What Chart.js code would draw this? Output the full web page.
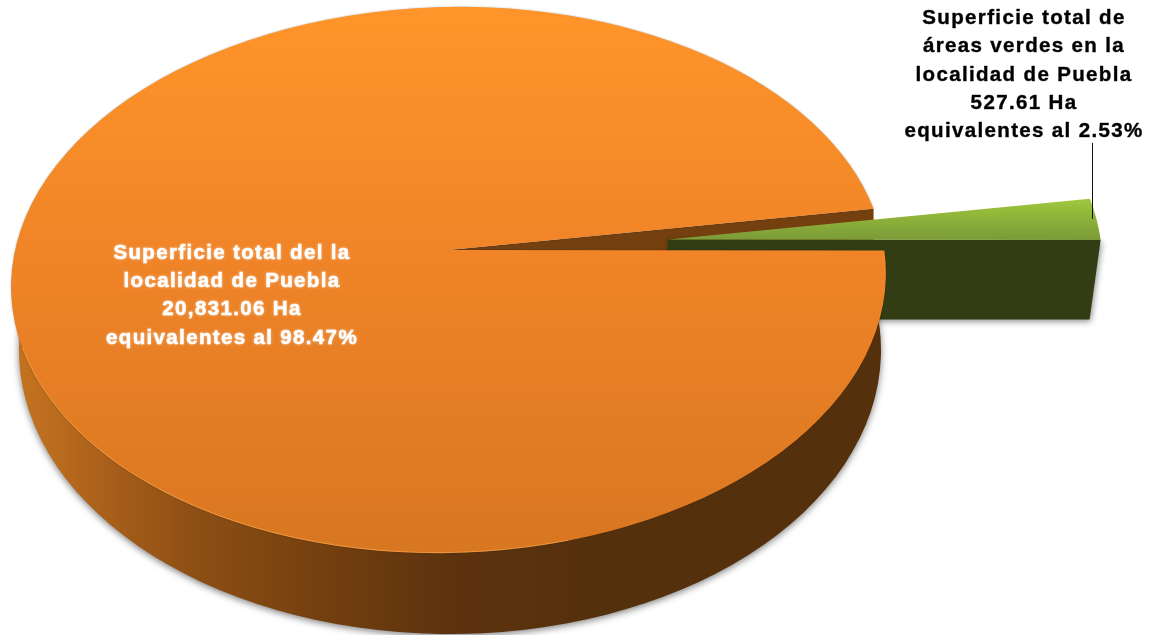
<!DOCTYPE html>
<html>
<head>
<meta charset="utf-8">
<style>
  html, body { margin: 0; padding: 0; background: #fff; }
  canvas { display: block; }
</style>
<script src="https://cdn.jsdelivr.net/npm/chart.js@4/dist/chart.umd.js"></script>
</head>
<body>
<canvas id="pie" width="1157" height="635"></canvas>
<script>
// Land area of Puebla: total surface versus green areas, in hectares.
const categories = ['Superficie total', 'Áreas verdes'];
const hectares = [20831.06, 527.61];
const sliceOffsets = [0, 219.5];
const orangeLabelLines = ['Superficie total del la', 'localidad de Puebla', '20,831.06 Ha', 'equivalentes al 98.47%'];
const greenLabelLines = ['Superficie total de', 'áreas verdes en la', 'localidad de Puebla', '527.61 Ha', 'equivalentes al 2.53%'];

// Tilted-disc projection: the top face is a slightly rotated ellipse, its apex
// sits above the ellipse centre and the base is another ellipse further down.
const view = {
  squash: 0.624,
  tilt: -1.5 * Math.PI / 180,
  apexDx: 0, apexDy: -30,
  baseDx: 1.5, baseDy: 70, baseRx: 431, baseRy: 284,
  wallDrop: 80, wallInset: 11,
  greenScale: 0.993
};

const rimPoint = (c, rx, ry, t) => {
  const px = rx * Math.cos(t), py = ry * Math.sin(t);
  const cs = Math.cos(view.tilt), sn = Math.sin(view.tilt);
  return { x: c.x + px * cs - py * sn, y: c.y + px * sn + py * cs };
};

const disc3d = {
  id: 'disc3d',
  beforeDatasetDraw(chart, args) {
    const { ctx } = chart;
    const [orange, green] = args.meta.data;
    const c = { x: orange.x, y: orange.y };
    const rx = orange.outerRadius;
    const ry = rx * view.squash;
    const apex = { x: c.x + view.apexDx, y: c.y + view.apexDy };

    const endRim = rimPoint(c, rx, ry, orange.endAngle);

    // Inner cut wall of the big slice, seen through the gap.
    ctx.save();
    ctx.fillStyle = '#74400f';
    ctx.beginPath();
    ctx.moveTo(apex.x, apex.y);
    ctx.lineTo(endRim.x, endRim.y);
    ctx.lineTo(endRim.x, endRim.y + view.wallDrop);
    ctx.lineTo(apex.x, apex.y + view.wallDrop);
    ctx.closePath();
    ctx.fill();
    ctx.restore();

    // The small slice is pushed out along the line through its middle.
    const midRim = rimPoint(c, rx, ry, (green.startAngle + green.endAngle) / 2);
    const len = Math.hypot(midRim.x - apex.x, midRim.y - apex.y);
    const off = green.options.offset;
    const gApex = {
      x: apex.x + (midRim.x - apex.x) / len * off,
      y: apex.y + (midRim.y - apex.y) / len * off
    };
    const gc = {
      x: gApex.x + (c.x - apex.x) * view.greenScale,
      y: gApex.y + (c.y - apex.y) * view.greenScale
    };
    const grx = rx * view.greenScale, gry = ry * view.greenScale;
    const gTip = rimPoint(gc, grx, gry, green.endAngle);

    // Green front wall.
    ctx.save();
    ctx.shadowColor = 'rgba(0,0,0,0.45)';
    ctx.shadowBlur = 6;
    ctx.shadowOffsetX = 1;
    ctx.shadowOffsetY = 2;
    ctx.fillStyle = '#323d14';
    ctx.beginPath();
    ctx.moveTo(gApex.x, gApex.y);
    ctx.lineTo(gTip.x, gTip.y);
    ctx.lineTo(gTip.x - view.wallInset, gApex.y + view.wallDrop);
    ctx.lineTo(gApex.x + 100, gApex.y + view.wallDrop);
    ctx.lineTo(gApex.x, gApex.y + 12);
    ctx.closePath();
    ctx.fill();
    ctx.restore();

    // Green top face.
    const gGrad = ctx.createLinearGradient(0, gApex.y - 41, 0, gApex.y);
    gGrad.addColorStop(0, green.options.backgroundColor);
    gGrad.addColorStop(1, '#7b9b38');
    ctx.fillStyle = gGrad;
    ctx.beginPath();
    ctx.moveTo(gApex.x, gApex.y);
    ctx.ellipse(gc.x, gc.y, grx, gry, view.tilt, green.startAngle, green.endAngle);
    ctx.closePath();
    ctx.fill();

    // Outer wall of the big slice: front part of the base ellipse.
    const bx = c.x + view.baseDx, by = c.y + view.baseDy;
    const wall = ctx.createLinearGradient(bx - view.baseRx, 0, bx + view.baseRx, 0);
    wall.addColorStop(0, '#c4721f');
    wall.addColorStop(0.05, '#b86a1e');
    wall.addColorStop(0.13, '#a05a18');
    wall.addColorStop(0.21, '#8c4e14');
    wall.addColorStop(0.35, '#74400f');
    wall.addColorStop(0.5, '#5d330e');
    wall.addColorStop(0.67, '#55300d');
    wall.addColorStop(1, '#55300d');
    ctx.save();
    ctx.shadowColor = 'rgba(0,0,0,0.5)';
    ctx.shadowBlur = 7;
    ctx.shadowOffsetX = 0;
    ctx.shadowOffsetY = 2;
    ctx.fillStyle = wall;
    ctx.beginPath();
    ctx.ellipse(bx, by, view.baseRx, view.baseRy, 0, -10 * Math.PI / 180, 190 * Math.PI / 180);
    ctx.closePath();
    ctx.fill();
    ctx.restore();

    // Orange top face.
    const oGrad = ctx.createLinearGradient(0, c.y - ry, 0, c.y + ry);
    oGrad.addColorStop(0, orange.options.backgroundColor);
    oGrad.addColorStop(0.45, '#f08427');
    oGrad.addColorStop(1, '#d87721');
    ctx.save();
    ctx.shadowColor = 'rgba(0,0,0,0.3)';
    ctx.shadowBlur = 2;
    ctx.fillStyle = oGrad;
    ctx.beginPath();
    ctx.moveTo(apex.x, apex.y);
    ctx.ellipse(c.x, c.y, rx, ry, view.tilt, orange.startAngle, orange.endAngle);
    ctx.closePath();
    ctx.fill();
    ctx.restore();

    // Light rim along the lower-left edge of the top face.
    ctx.strokeStyle = 'rgba(255,175,90,0.55)';
    ctx.lineWidth = 1;
    ctx.beginPath();
    ctx.ellipse(c.x, c.y, rx - 0.5, ry - 0.5, view.tilt, 75 * Math.PI / 180, 168 * Math.PI / 180);
    ctx.stroke();

    return false;
  },
  afterDatasetsDraw(chart) {
    const { ctx } = chart;
    const drawLines = (lines, x, y, gap, color, glow) => {
      ctx.save();
      ctx.font = 'bold 20.5px "Liberation Sans", Arial, sans-serif';
      ctx.letterSpacing = '1.35px';
      ctx.textAlign = 'center';
      ctx.textBaseline = 'middle';
      ctx.fillStyle = color;
      ctx.strokeStyle = color;
      ctx.lineWidth = 0.5;
      ctx.lineJoin = 'round';
      ctx.shadowColor = glow;
      ctx.shadowBlur = 3;
      lines.forEach((line, i) => {
        ctx.strokeText(line, x, y + i * gap);
        ctx.fillText(line, x, y + i * gap);
      });
      ctx.restore();
    };
    drawLines(orangeLabelLines, 232, 253, 28.4, '#ffffff', 'rgba(255,255,255,0.45)');
    drawLines(greenLabelLines, 1024, 18.5, 28.2, '#000000', 'rgba(255,255,255,0.6)');

    // Leader line from the label to the green slice.
    ctx.strokeStyle = '#111';
    ctx.lineWidth = 1;
    ctx.beginPath();
    ctx.moveTo(1092.5, 143);
    ctx.lineTo(1092.5, 219);
    ctx.stroke();
  }
};

new Chart(document.getElementById('pie'), {
  type: 'pie',
  data: {
    labels: categories,
    datasets: [{
      data: hectares,
      backgroundColor: ['#ff952a', '#9fc83c'],
      borderWidth: 0,
      offset: sliceOffsets
    }]
  },
  options: {
    responsive: false,
    animation: false,
    rotation: 86.2,
    radius: 437.5,
    layout: { padding: { right: 260, bottom: 75 } },
    plugins: {
      legend: { display: false },
      tooltip: { enabled: false },
      title: { display: false }
    }
  },
  plugins: [disc3d]
});
</script>
</body>
</html>
